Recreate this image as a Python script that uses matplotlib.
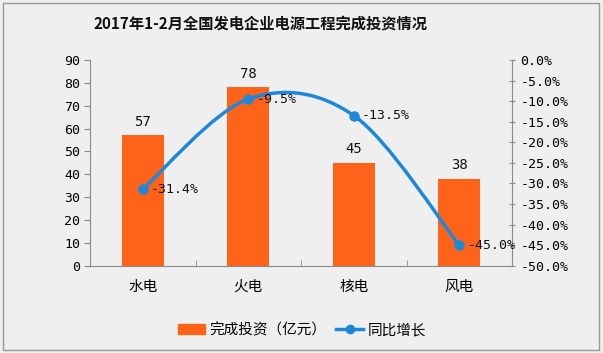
import numpy as np
import matplotlib
matplotlib.use("Agg")
import matplotlib.pyplot as plt
from matplotlib.path import Path
from matplotlib.patches import PathPatch, Rectangle
from matplotlib.lines import Line2D

plt.rcParams['font.family'] = ['Noto Sans CJK SC', 'DejaVu Sans']

title = "2017年1-2月全国发电企业电源工程完成投资情况"
categories = ["水电", "火电", "核电", "风电"]
invest = [57, 78, 45, 38]
growth = [-31.4, -9.5, -13.5, -45.0]
bar_name = "完成投资（亿元）"
line_name = "同比增长"

bg = "#efefef"
orange = "#ff6319"
blue = "#1e88d8"
axis_grey = "#898989"
num_font = ["DejaVu Sans Mono"]

fig = plt.figure(figsize=(6.03, 3.53), dpi=100, facecolor=bg)
ax = fig.add_axes([90 / 603, 1 - 265.7 / 353, 422 / 603, 205.7 / 353])
ax.set_facecolor("none")
ax2 = ax.twinx()

x = np.arange(len(categories))
bars = ax.bar(x, invest, width=0.4, color=orange, zorder=2)
for xi, v in zip(x, invest):
    ax.text(xi, v + 3, str(v), ha="center", va="bottom", fontsize=10,
            family=num_font, color="#111111")

ax.set_xlim(-0.5, len(categories) - 0.5)
ax.set_ylim(0, 90)
ax.set_yticks(range(0, 91, 10))
ax.set_xticks(x)
ax.set_xticklabels(categories, fontsize=10.5)
ax.set_xticks(np.arange(-0.5, len(categories)), minor=True)
ax.tick_params(axis="x", which="major", length=0, pad=10)
ax.tick_params(axis="x", which="minor", length=4, color=axis_grey, direction="in")
ax.tick_params(axis="y", length=4, color=axis_grey, labelsize=9.5, pad=3)
for lab in ax.get_yticklabels():
    lab.set_family(num_font)

# smooth line (Excel style bezier through the points)
pts = list(zip(x.astype(float), growth))
verts = [pts[0]]
codes = [Path.MOVETO]
n = len(pts)
for i in range(n - 1):
    p0 = pts[i - 1] if i > 0 else pts[i]
    p1 = pts[i]
    p2 = pts[i + 1]
    p3 = pts[i + 2] if i + 2 < n else pts[i + 1]
    c1 = (p1[0] + (p2[0] - p0[0]) / 6, p1[1] + (p2[1] - p0[1]) / 6)
    c2 = (p2[0] - (p3[0] - p1[0]) / 6, p2[1] - (p3[1] - p1[1]) / 6)
    verts += [c1, c2, p2]
    codes += [Path.CURVE4] * 3
ax2.add_patch(PathPatch(Path(verts, codes), facecolor="none", edgecolor=blue, lw=2.5, zorder=3))
ax2.plot(x, growth, "o", color=blue, ms=6.5, zorder=4)
for xi, g in zip(x, growth):
    ax2.text(xi + 0.08, g, f"{g:.1f}%", ha="left", va="center", fontsize=9.5,
             family=num_font, color="#111111", zorder=5)

ax2.set_ylim(-50, 0)
ax2.set_yticks(np.arange(-50, 0.1, 5))
ax2.set_yticklabels([f"{v:.1f}%" for v in np.arange(-50, 0.1, 5)], fontsize=9.5, family=num_font)
ax2.tick_params(axis="y", length=4, color=axis_grey, direction="inout", pad=4)

for a in (ax, ax2):
    a.spines["top"].set_visible(False)
    for s in ("left", "right", "bottom"):
        a.spines[s].set_color(axis_grey)
ax.spines["right"].set_visible(False)
ax2.spines["left"].set_visible(False)
ax2.spines["bottom"].set_visible(False)

fig.text(261 / 603, 1 - 24 / 353, title, ha="center", va="center", fontsize=11,
         fontweight="bold", color="#111111")

handles = [Rectangle((0, 0), 1, 1, color=orange),
           Line2D([0], [0], color=blue, lw=2.5, marker="o", ms=6)]
fig.legend(handles, [bar_name, line_name], loc="center", bbox_to_anchor=(302 / 603, 1 - 330 / 353),
           ncol=2, frameon=False, fontsize=10.5, handlelength=1.85, columnspacing=0.7, handletextpad=0.3)

fig.patches.append(Rectangle((3 / 603, 3 / 353), 596 / 603, 347 / 353, transform=fig.transFigure,
                             fill=False, edgecolor="#999999", lw=1))

fig.savefig("out.png", dpi=100, facecolor=bg)
